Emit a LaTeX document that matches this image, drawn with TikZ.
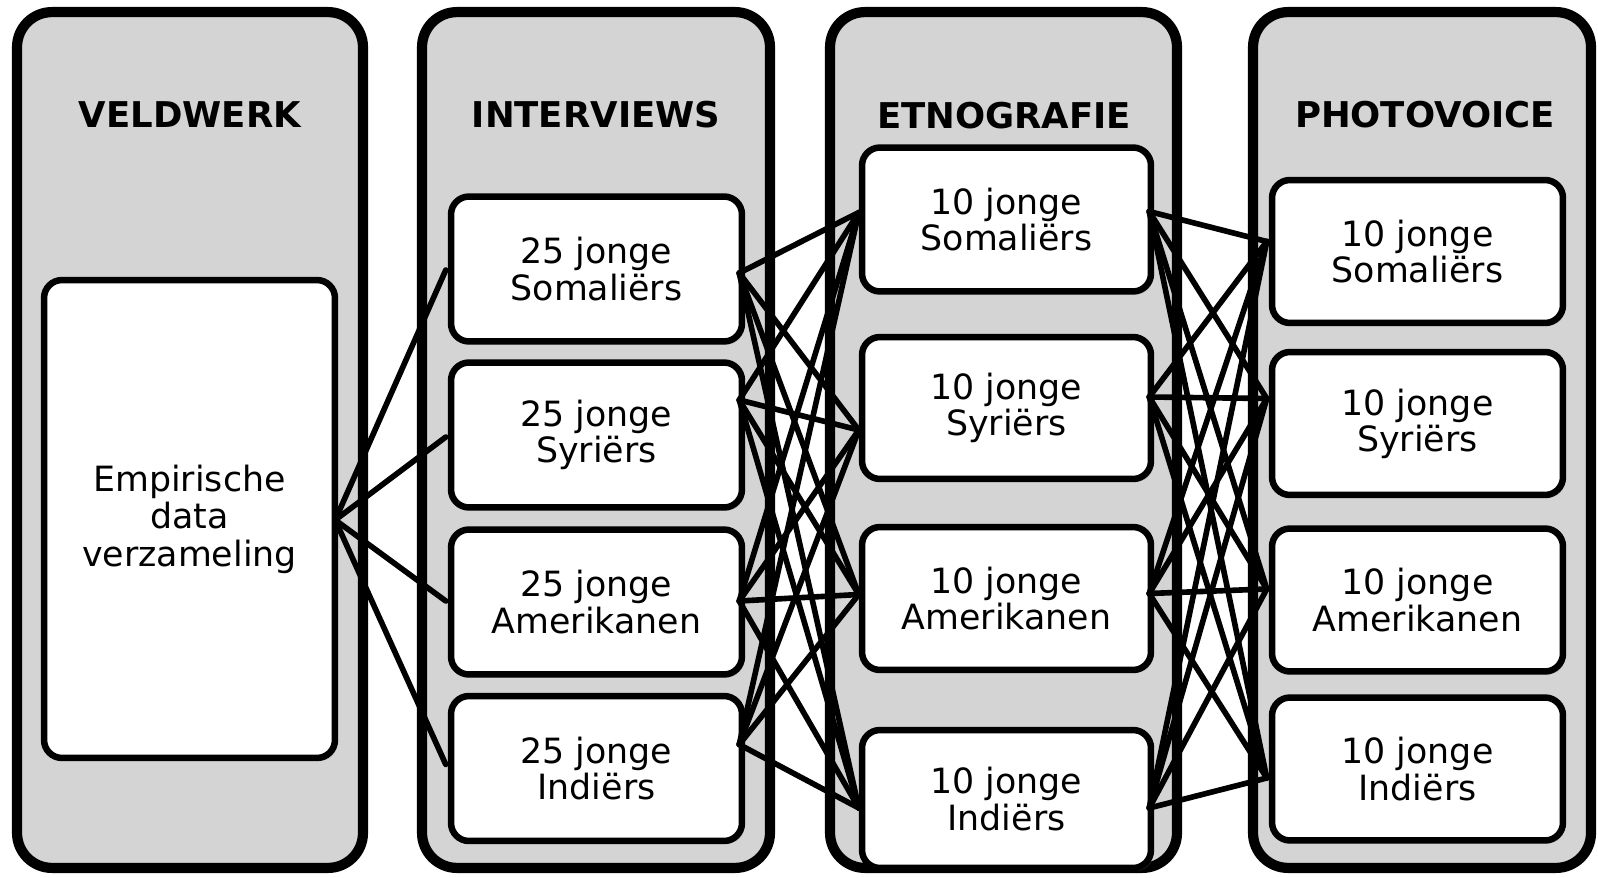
\documentclass[tikz,border=0pt]{standalone}
\usepackage{fontspec}
\setmainfont{DejaVu Sans}
\usetikzlibrary{shadows,calc}
\definecolor{colgray}{RGB}{212,212,212}
\tikzset{
  column/.style={draw=black, line width=5.8pt, fill=colgray, rounded corners=0.7cm, inner sep=0pt, minimum height=17.12cm},
  box/.style={draw=black, line width=3.7pt, fill=white, rounded corners=0.36cm, align=center,
    font=\fontsize{19.8}{20.6}\selectfont, inner sep=0pt,
    drop shadow={shadow xshift=0.05cm, shadow yshift=-0.06cm, opacity=0.35}},
  title/.style={font=\fontsize{20.2}{24}\selectfont\bfseries},
  link/.style={line width=3.2pt, line cap=round, line join=round},
}
\begin{document}
\begin{tikzpicture}[x=0.02cm, y=-0.02cm]
\useasboundingbox (0,0) rectangle (1598,878);
% columns
\node[column, minimum width=6.92cm] (c1) at (190,440) {};
\node[column, minimum width=6.96cm] (c2) at (596,440) {};
\node[column, minimum width=6.94cm] (c3) at (1003.5,440) {};
\node[column, minimum width=6.76cm] (c4) at (1422,440) {};
% titles
\node[title] (h1) at (190,115) {VELDWERK};
\node[title] (h2) at (596,115) {INTERVIEWS};
\node[title] (h3) at (1004,116) {ETNOGRAFIE};
\node[title] (h4) at (1425,115) {PHOTOVOICE};
% boxes
\node[box, minimum width=5.82cm, minimum height=9.56cm, font=\fontsize{19.8}{21.4}\selectfont] (e) at (189.5,519) {Empirische\\data\\verzameling};
\foreach \n/\y/\t in {1/269/Somaliërs, 2/435/Syriërs, 3/602/Amerikanen, 4/768.5/Indiërs}{
  \node[box, minimum width=5.82cm, minimum height=2.9cm] (i\n) at (596.5,\y) {25 jonge\\\t};
}
\foreach \n/\y/\h/\t in {1/219.5/2.88/Somaliërs, 2/408/2.84/Syriërs, 3/598.5/2.86/Amerikanen, 4/799/2.76/Indiërs}{
  \node[box, minimum width=5.78cm, minimum height=\h cm] (t\n) at (1006.5,\y) {10 jonge\\\t};
}
\foreach \n/\y/\t in {1/251.5/Somaliërs, 2/423.5/Syriërs, 3/600/Amerikanen, 4/769/Indiërs}{
  \node[box, minimum width=5.82cm, minimum height=2.86cm] (p\n) at (1417.5,\y) {10 jonge\\\t};
}
% connector end points
\coordinate (eE) at ($(e.east)+(-3,1)$);
\foreach \n/\dy in {1/1, 2/2, 3/-1, 4/-4}{\coordinate (iw\n) at ($(i\n.west)+(-2,\dy)$);}
\foreach \n/\dy in {1/4, 2/-35, 3/-1, 4/-24}{\coordinate (ie\n) at ($(i\n.east)+(-6,\dy)$);}
\foreach \n/\dy in {1/-7, 2/22, 3/-4, 4/9}{\coordinate (tw\n) at ($(t\n.west)+(0,\dy)$);}
\foreach \n/\dy in {1/-8, 2/-11, 3/-5, 4/9}{\coordinate (te\n) at ($(t\n.east)+(-5,\dy)$);}
\foreach \n/\dy in {1/-10, 2/-25, 3/-11, 4/9}{\coordinate (pw\n) at ($(p\n.west)+(-2,\dy)$);}
% connectors
\foreach \a in {1,...,4}{\draw[link] (eE) -- (iw\a);}
\foreach \a in {1,...,4}{
  \foreach \b in {1,...,4}{
    \draw[link] (ie\a) -- (tw\b);
    \draw[link] (te\a) -- (pw\b);
  }
}
\end{tikzpicture}
\end{document}
